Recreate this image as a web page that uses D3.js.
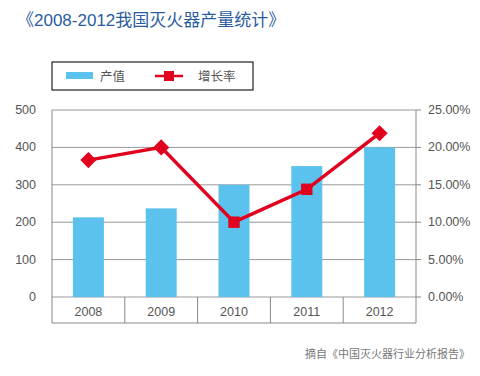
<!DOCTYPE html>
<html>
<head>
<meta charset="utf-8">
<script src="https://cdn.jsdelivr.net/npm/d3@7"></script>
<style>
  body { margin: 0; background: #fff; }
  text { font-family: "Liberation Sans", Arial, "Noto Sans CJK SC", sans-serif; }
</style>
</head>
<body>
<div id="content"></div>
<script>
const years = ["2008", "2009", "2010", "2011", "2012"];
const output = [213, 237, 300, 350, 400];          // 产值
const growth = [18.3, 20.0, 10.0, 14.4, 21.9];     // 增长率 %
const leftTicks = [0, 100, 200, 300, 400, 500];
const rightTicks = [0, 5, 10, 15, 20, 25];
const markerTurn = [45, 45, 0, 0, 45];             // marker angles as drawn in the original

const W = 480, H = 376;
const margin = { left: 52, right: 64, top: 110, bottom: 79 };
const iW = W - margin.left - margin.right;
const iH = H - margin.top - margin.bottom;
const catH = 26;

const svg = d3.select("#content").append("svg")
    .attr("width", W)
    .attr("height", H);

// title
svg.append("text")
    .attr("x", 17).attr("y", 26)
    .attr("fill", "#2b5c9e")
    .style("font-size", "17px")
    .text("《2008-2012我国灭火器产量统计》");

const xScale = d3.scaleBand().domain(years).range([0, iW]).paddingInner(0).paddingOuter(0);
const yL = d3.scaleLinear().domain([0, 500]).range([iH, 0]);
const yR = d3.scaleLinear().domain([0, 25]).range([iH, 0]);

const g = svg.append("g")
    .attr("transform", "translate(" + margin.left + "," + margin.top + ")");

// gridlines
g.selectAll(".grid").data(leftTicks).enter()
    .append("line")
    .attr("x1", 0).attr("x2", iW)
    .attr("y1", d => yL(d)).attr("y2", d => yL(d))
    .attr("stroke", "#999").attr("stroke-width", 1);

// frame lines: left, right, bottom of category band
g.append("line").attr("x1", 0).attr("x2", 0).attr("y1", 0).attr("y2", iH + catH)
    .attr("stroke", "#888");
g.append("line").attr("x1", iW).attr("x2", iW).attr("y1", 0).attr("y2", iH + catH)
    .attr("stroke", "#888");
g.append("line").attr("x1", 0).attr("x2", iW).attr("y1", iH + catH).attr("y2", iH + catH)
    .attr("stroke", "#888");
// category dividers
g.selectAll(".div").data(years.slice(1)).enter()
    .append("line")
    .attr("x1", d => xScale(d)).attr("x2", d => xScale(d))
    .attr("y1", iH).attr("y2", iH + catH)
    .attr("stroke", "#888");

// category labels
g.selectAll(".cat").data(years).enter()
    .append("text")
    .attr("x", d => xScale(d) + xScale.bandwidth() / 2)
    .attr("y", iH + 19)
    .attr("text-anchor", "middle")
    .attr("fill", "#555")
    .style("font-size", "12.5px")
    .text(d => d);

// left axis labels
g.selectAll(".lt").data(leftTicks).enter()
    .append("text")
    .attr("x", -16).attr("y", d => yL(d) + 4)
    .attr("text-anchor", "end")
    .attr("fill", "#555")
    .style("font-size", "12.5px")
    .text(d => d);

// right axis ticks and labels
g.selectAll(".rtick").data(rightTicks).enter()
    .append("line")
    .attr("x1", iW).attr("x2", iW + 5)
    .attr("y1", d => yR(d)).attr("y2", d => yR(d))
    .attr("stroke", "#888");
g.selectAll(".rt").data(rightTicks).enter()
    .append("text")
    .attr("x", iW + 12).attr("y", d => yR(d) + 4)
    .attr("fill", "#555")
    .style("font-size", "12.5px")
    .text(d => d.toFixed(2) + "%");

// bars
const barW = 31;
g.selectAll(".bar").data(output).enter()
    .append("rect")
    .attr("x", (d, i) => xScale(years[i]) + xScale.bandwidth() / 2 - barW / 2)
    .attr("y", d => yL(d))
    .attr("width", barW)
    .attr("height", d => iH - yL(d))
    .attr("fill", "#5bc2ee");

// line
const line = d3.line()
    .x((d, i) => xScale(years[i]) + xScale.bandwidth() / 2)
    .y(d => yR(d));
g.append("path").datum(growth)
    .attr("d", line)
    .attr("fill", "none")
    .attr("stroke", "#e1001e")
    .attr("stroke-width", 3.5);

g.selectAll(".mk").data(growth).enter()
    .append("path")
    .attr("d", d3.symbol(d3.symbolSquare, 130))
    .attr("transform", (d, i) => "translate(" + (xScale(years[i]) + xScale.bandwidth() / 2) + "," + yR(d) + ") rotate(" + markerTurn[i] + ")")
    .attr("fill", "#e1001e");

// legend
const lg = svg.append("g").attr("transform", "translate(52,62)");
lg.append("rect").attr("x", 0).attr("y", 0).attr("width", 201).attr("height", 28)
    .attr("fill", "#fff").attr("stroke", "#222").attr("stroke-width", 1.2);
lg.append("rect").attr("x", 14).attr("y", 10).attr("width", 27).attr("height", 7)
    .attr("fill", "#5bc2ee");
lg.append("text").attr("x", 48).attr("y", 18.5).attr("fill", "#555")
    .style("font-size", "12.5px").text("产值");
lg.append("line").attr("x1", 103).attr("x2", 131).attr("y1", 14).attr("y2", 14)
    .attr("stroke", "#e1001e").attr("stroke-width", 2.5);
lg.append("rect").attr("x", 112).attr("y", 9).attr("width", 10).attr("height", 10)
    .attr("fill", "#e1001e");
lg.append("text").attr("x", 146).attr("y", 18.5).attr("fill", "#555")
    .style("font-size", "12.5px").text("增长率");

// source
svg.append("text")
    .attr("x", 470).attr("y", 358)
    .attr("text-anchor", "end")
    .attr("fill", "#777")
    .style("font-size", "11px")
    .text("摘自《中国灭火器行业分析报告》");
</script>
</body>
</html>
